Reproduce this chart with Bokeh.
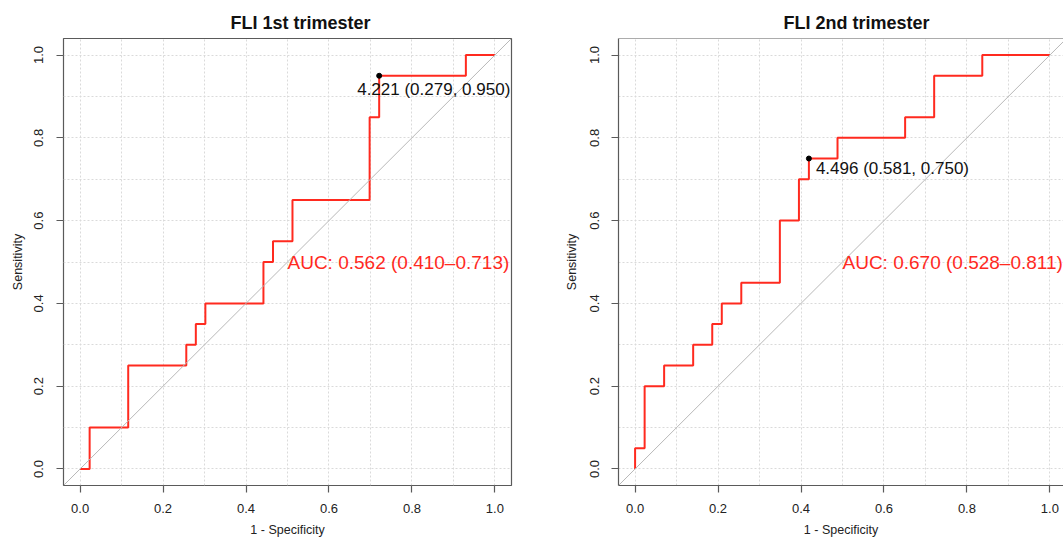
from bokeh.plotting import figure
from bokeh.models import FixedTicker, Slope, Span, Range1d, Label, Title
from bokeh.layouts import row
from bokeh.embed import file_html
from bokeh.resources import INLINE

# ---------------- data ----------------
# ROC curve, 1st trimester: 1 - specificity and sensitivity at each step
fli1_fpr = [0.000, 0.023, 0.116, 0.256, 0.279, 0.302, 0.442, 0.465, 0.512, 0.698, 0.721, 0.930, 1.000]
fli1_sens = [0.00, 0.10, 0.25, 0.30, 0.35, 0.40, 0.50, 0.55, 0.65, 0.85, 0.95, 1.00, 1.00]
fli1_thr, fli1_thr_spec, fli1_thr_sens = 4.221, 0.279, 0.950
fli1_auc, fli1_ci_lo, fli1_ci_hi = 0.562, 0.410, 0.713

# ROC curve, 2nd trimester
fli2_fpr = [0.000, 0.000, 0.023, 0.070, 0.140, 0.186, 0.209, 0.256, 0.349, 0.395, 0.419, 0.488, 0.651, 0.721, 0.837, 1.000]
fli2_sens = [0.00, 0.05, 0.20, 0.25, 0.30, 0.35, 0.40, 0.45, 0.60, 0.70, 0.75, 0.80, 0.85, 0.95, 1.00, 1.00]
fli2_thr, fli2_thr_spec, fli2_thr_sens = 4.496, 0.581, 0.750
fli2_auc, fli2_ci_lo, fli2_ci_hi = 0.670, 0.528, 0.811

titles = ["FLI 1st trimester", "FLI 2nd trimester"]
tick_values = [0.0, 0.2, 0.4, 0.6, 0.8, 1.0]
tick_labels = ["0.0", "0.2", "0.4", "0.6", "0.8", "1.0"]
grid_values = [0.0, 0.1, 0.2, 0.3, 0.4, 0.5, 0.6, 0.7, 0.8, 0.9, 1.0]
x_label = "1 - Specificity"
y_label = "Sensitivity"

# ---------------- styling ----------------
FONT = "Liberation Sans"
FRAME = "#5a5a5a"
RED = "#ff2a1f"
LO, HI = -0.04, 1.04


def panel(title, fpr, sens, thr, spec, sn, auc, lo, hi, width, x_end, mb_left, mb_right,
          title_offset, lab_dx, lab_dy, outline, ytick_standoff, ylab_standoff):
    p = figure(width=width, height=540, x_range=Range1d(LO, x_end),
               y_range=Range1d(LO, HI), output_backend="svg",
               toolbar_location=None, min_border_left=mb_left, min_border_right=mb_right,
               min_border_top=38, min_border_bottom=55)
    t = Title(text=title, text_font=FONT, text_font_size="18px", text_font_style="bold",
              text_color="#111111", align="left", offset=title_offset, standoff=11)
    p.add_layout(t, "above")
    p.background_fill_color = "white"
    p.border_fill_color = "white"
    if outline:
        p.outline_line_color = FRAME
        p.outline_line_width = 1.2
    else:
        p.outline_line_color = None

    for ax in (p.xaxis[0], p.yaxis[0]):
        ax.ticker = FixedTicker(ticks=tick_values)
        ax.major_label_overrides = {v: s for v, s in zip(tick_values, tick_labels)}
        ax.major_tick_out = 7
        ax.major_tick_in = 0
        ax.minor_tick_line_color = None
        ax.major_tick_line_color = FRAME
        ax.major_tick_line_width = 1.2
        ax.axis_line_color = None if outline else FRAME
        ax.axis_line_width = 1.2
        ax.major_label_text_font = FONT
        ax.major_label_text_font_size = "13px"
        ax.major_label_text_color = "#222222"
        ax.axis_label_text_font = FONT
        ax.axis_label_text_font_size = "12.5px"
        ax.axis_label_text_font_style = "normal"
        ax.axis_label_text_color = "#222222"
    p.xaxis.axis_label = x_label
    p.yaxis.axis_label = y_label
    p.xaxis.major_label_standoff = 11
    p.yaxis.major_label_standoff = ytick_standoff
    p.xaxis.axis_label_standoff = 7
    p.yaxis.axis_label_standoff = ylab_standoff
    p.yaxis.major_label_orientation = "vertical"

    for g in (p.xgrid[0], p.ygrid[0]):
        g.ticker = FixedTicker(ticks=grid_values)
        g.grid_line_color = "#dadada"
        g.grid_line_dash = "2 2"
        g.grid_line_width = 1

    if not outline:
        p.add_layout(Span(location=HI, dimension="width", line_color=FRAME, line_width=1.2))

    p.add_layout(Slope(gradient=1, y_intercept=0, line_color="#b8b8b8", line_width=1))
    p.step(fpr, sens, mode="after", line_color=RED, line_width=2)
    p.scatter([1 - spec], [sn], size=5, color="black")

    p.add_layout(Label(x=1 - spec, y=sn, x_offset=lab_dx, y_offset=lab_dy,
                       text=f"{thr:.3f} ({spec:.3f}, {sn:.3f})",
                       text_font=FONT, text_font_size="17px", text_color="#111111",
                       text_align="left", text_baseline="middle"))
    p.add_layout(Label(x=0.5, y=0.5, text=f"AUC: {auc:.3f} ({lo:.3f}\u2013{hi:.3f})",
                       text_font=FONT, text_font_size="19px", text_color=RED,
                       text_align="left", text_baseline="middle"))
    return p


p1 = panel(titles[0], fli1_fpr, fli1_sens, fli1_thr, fli1_thr_spec, fli1_thr_sens,
           fli1_auc, fli1_ci_lo, fli1_ci_hi, 558, HI, 63, 47, 167, -22, -14, True, 13, 7)
p2 = panel(titles[1], fli2_fpr, fli2_sens, fli2_thr, fli2_thr_spec, fli2_thr_sens,
           fli2_auc, fli2_ci_lo, fli2_ci_hi, 505, 1.0328, 60, 0, 165, 7, -10, False, 12, 9)

layout = row(p1, p2, spacing=0)
open("out.html", "w").write(file_html(layout, INLINE))
